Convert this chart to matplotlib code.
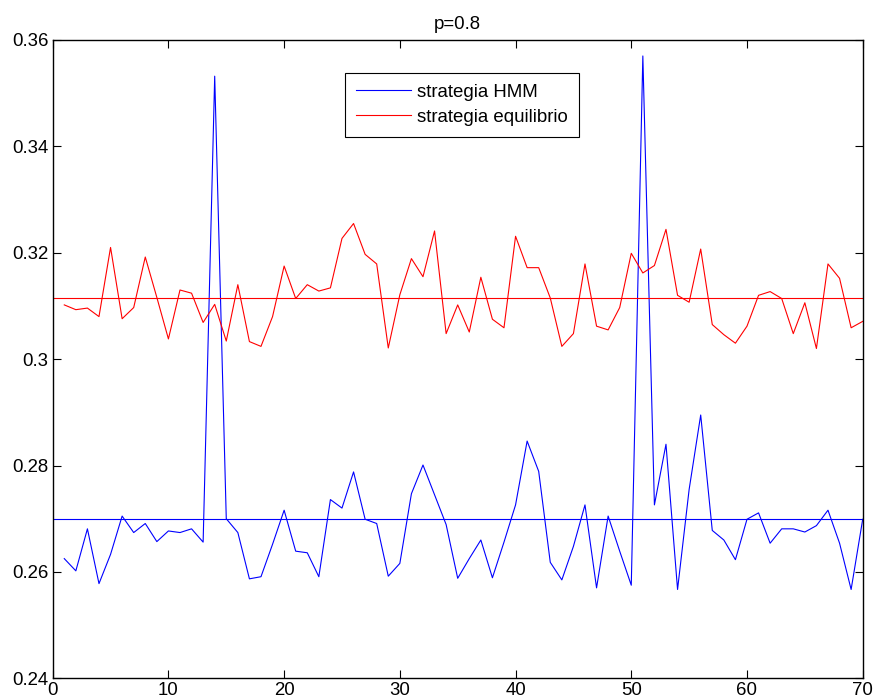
import numpy as np
import matplotlib
matplotlib.use('Agg')
import matplotlib.pyplot as plt

# Data
steps = np.arange(1, 71)

hmm_strategy = [0.2625, 0.2602, 0.2681, 0.2578, 0.2633, 0.2705, 0.2674, 0.2691,
                0.2657, 0.2677, 0.2674, 0.2681, 0.2656, 0.3532, 0.2700, 0.2674,
                0.2587, 0.2591, 0.2652, 0.2716, 0.2639, 0.2636, 0.2591, 0.2736,
                0.2720, 0.2788, 0.2699, 0.2691, 0.2592, 0.2616, 0.2747, 0.2801,
                0.2745, 0.2689, 0.2588, 0.2625, 0.2660, 0.2589, 0.2656, 0.2726,
                0.2846, 0.2789, 0.2618, 0.2585, 0.2648, 0.2726, 0.2570, 0.2705,
                0.2639, 0.2575, 0.3570, 0.2726, 0.2840, 0.2567, 0.2755, 0.2895,
                0.2678, 0.2660, 0.2623, 0.2699, 0.2711, 0.2654, 0.2681, 0.2681,
                0.2675, 0.2687, 0.2716, 0.2654, 0.2567, 0.2699]

eq_strategy = [0.3102, 0.3093, 0.3096, 0.3080, 0.3210, 0.3076, 0.3097, 0.3192,
               0.3116, 0.3038, 0.3130, 0.3124, 0.3069, 0.3103, 0.3034, 0.3140,
               0.3033, 0.3024, 0.3080, 0.3175, 0.3114, 0.3140, 0.3128, 0.3134,
               0.3227, 0.3255, 0.3197, 0.3179, 0.3021, 0.3121, 0.3189, 0.3155,
               0.3241, 0.3048, 0.3102, 0.3051, 0.3154, 0.3075, 0.3059, 0.3231,
               0.3172, 0.3172, 0.3115, 0.3024, 0.3048, 0.3179, 0.3062, 0.3055,
               0.3097, 0.3199, 0.3162, 0.3176, 0.3244, 0.3120, 0.3107, 0.3207,
               0.3065, 0.3046, 0.3030, 0.3062, 0.3120, 0.3127, 0.3114, 0.3048,
               0.3106, 0.3020, 0.3179, 0.3152, 0.3059, 0.3071]

hmm_mean = 0.2699
eq_mean = 0.3115

y_ticks = [0.24, 0.26, 0.28, 0.30, 0.32, 0.34, 0.36]
y_tick_labels = ['0.24', '0.26', '0.28', '0.3', '0.32', '0.34', '0.36']
x_ticks = [0, 10, 20, 30, 40, 50, 60, 70]

plt.rcParams['font.family'] = ['Liberation Sans', 'DejaVu Sans']
font_size = 13.4

fig = plt.figure(figsize=(8.75, 6.99), dpi=100)
ax = fig.add_axes([52.7 / 875, (699 - 678.3) / 699, 810 / 875, 638.3 / 699])

ax.plot(steps, hmm_strategy, color='#0000ff', linewidth=0.8, label='strategia HMM')
ax.plot(steps, eq_strategy, color='#ff0000', linewidth=0.8, label='strategia equilibrio')
ax.plot([0, 70], [eq_mean, eq_mean], color='#ff0000', linewidth=0.8)
ax.plot([0, 70], [hmm_mean, hmm_mean], color='#0000ff', linewidth=0.8)

ax.set_xlim(0, 70)
ax.set_ylim(0.24, 0.36)
ax.set_xticks(x_ticks)
ax.set_xticklabels([str(t) for t in x_ticks], fontsize=font_size)
ax.set_yticks(y_ticks)
ax.set_yticklabels(y_tick_labels, fontsize=font_size)
ax.tick_params(direction='in', length=6, width=0.8, top=True, right=True,
               pad=3)
for s in ax.spines.values():
    s.set_linewidth(1.0)

ax.set_title('p=0.8', fontsize=font_size, pad=8)

# legend box, padded a bit more on the right like the original
leg = ax.legend(loc='upper left', bbox_to_anchor=(0.361, 0.9488),
                borderaxespad=0, fontsize=font_size, fancybox=False,
                edgecolor='black', handlelength=2.95, handletextpad=0.35,
                borderpad=0.58, labelspacing=0.45, framealpha=1)
leg.get_frame().set_linewidth(0.8)
fig.canvas.draw()
frame = leg.get_frame()
frame.set_width(frame.get_width() + 12)
frame.set_y(frame.get_y() + 2)
frame.set_height(frame.get_height() - 2)

fig.savefig('out.png', dpi=100)
